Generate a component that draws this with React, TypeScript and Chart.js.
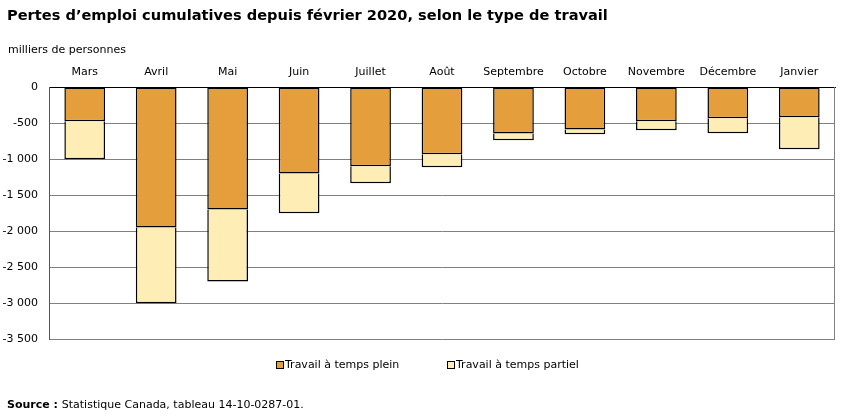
import React, { useEffect, useRef } from "react";
import { Chart, registerables } from "chart.js";

Chart.register(...registerables);

// Mois depuis février 2020
const months = [
  "Mars", "Avril", "Mai", "Juin", "Juillet", "Août",
  "Septembre", "Octobre", "Novembre", "Décembre", "Janvier",
];

// Pertes cumulatives (milliers de personnes)
const fullTime = [-475, -1950, -1700, -1200, -1100, -935, -645, -590, -477, -435, -421];
const partTime = [-530, -1055, -1000, -555, -238, -180, -96, -67, -125, -209, -445];

const seriesLabels = ["Travail à temps plein", "Travail à temps partiel"];
const seriesColors = ["#E49E3C", "#FEEDB4"];

const titleText = "Pertes d’emploi cumulatives depuis février 2020, selon le type de travail";
const unitText = "milliers de personnes";
const sourceBold = "Source :";
const sourceText = "Statistique Canada, tableau 14-10-0287-01.";

const FONT = "'DejaVu Sans', Verdana, sans-serif";

function formatThousands(v: number): string {
  const sign = v < 0 ? "-" : "";
  const s = Math.abs(Math.round(v)).toString();
  return sign + s.replace(/\B(?=(\d{3})+(?!\d))/g, " ");
}

const decorations = {
  id: "decorations",
  beforeDatasetsDraw(chart: any) {
    const { ctx, chartArea } = chart;
    ctx.save();
    ctx.strokeStyle = "#808080";
    ctx.lineWidth = 1;
    ctx.beginPath();
    ctx.moveTo(Math.round(chartArea.right) - 0.5, chartArea.top);
    ctx.lineTo(Math.round(chartArea.right) - 0.5, chartArea.bottom);
    ctx.stroke();
    ctx.restore();
  },
  afterDraw(chart: any) {
    const { ctx } = chart;
    ctx.save();
    ctx.fillStyle = "#000";
    ctx.textBaseline = "middle";
    ctx.textAlign = "left";

    ctx.font = `bold 14.6px ${FONT}`;
    ctx.fillText(titleText, 7, 16);

    ctx.font = `11px ${FONT}`;
    ctx.fillText(unitText, 8, 50);

    // légende
    const items = [
      { x: 276, label: seriesLabels[0], color: seriesColors[0] },
      { x: 447, label: seriesLabels[1], color: seriesColors[1] },
    ];
    for (const it of items) {
      ctx.fillStyle = it.color;
      ctx.fillRect(it.x, 361, 7, 7);
      ctx.strokeStyle = "#000";
      ctx.lineWidth = 1;
      ctx.strokeRect(it.x + 0.5, 361.5, 7, 7);
      ctx.fillStyle = "#000";
      ctx.font = `11px ${FONT}`;
      ctx.fillText(it.label, it.x + 9, 365);
    }

    // source
    ctx.font = `bold 11px ${FONT}`;
    ctx.fillText(sourceBold, 7, 405);
    const w = ctx.measureText(sourceBold + " ").width;
    ctx.font = `11px ${FONT}`;
    ctx.fillText(sourceText, 7 + w, 405);
    ctx.restore();
  },
};

export default function App() {
  const canvasRef = useRef<HTMLCanvasElement | null>(null);

  useEffect(() => {
    if (!canvasRef.current) return;
    const chart = new Chart(canvasRef.current, {
      type: "bar",
      data: {
        labels: months,
        datasets: [
          {
            label: seriesLabels[0],
            data: fullTime,
            backgroundColor: seriesColors[0],
            borderColor: "#000",
            borderWidth: 1.5,
            borderSkipped: false,
          },
          {
            label: seriesLabels[1],
            data: partTime,
            backgroundColor: seriesColors[1],
            borderColor: "#000",
            borderWidth: 1.5,
            // le bord supérieur est partagé avec le segment temps plein
            borderSkipped: "start",
          },
        ],
      },
      options: {
        responsive: false,
        animation: false,
        devicePixelRatio: 1,
        datasets: { bar: { barPercentage: 0.57, categoryPercentage: 1 } },
        layout: { padding: { top: 60, right: 16, bottom: 77, left: 0 } },
        plugins: {
          legend: { display: false },
          title: { display: false },
          tooltip: { enabled: false },
        },
        scales: {
          x: {
            position: "top",
            stacked: true,
            grid: { display: false, drawTicks: false },
            border: { display: true, color: "#000", width: 1 },
            ticks: {
              color: "#000",
              font: { family: FONT, size: 11 },
              padding: 8,
              maxRotation: 0,
              autoSkip: false,
            },
            afterFit(scale: any) {
              scale.height = 27;
            },
          },
          y: {
            stacked: true,
            min: -3500,
            max: 0,
            grid: {
              color: (c: any) => (c.tick && c.tick.value === 0 ? "#000" : "#808080"),
              lineWidth: 1,
              drawTicks: false,
            },
            border: { display: true, color: "#555", width: 1 },
            ticks: {
              stepSize: 500,
              color: "#000",
              font: { family: FONT, size: 11 },
              padding: 11,
              callback: (v: any) => formatThousands(Number(v)),
            },
            afterFit(scale: any) {
              scale.width = 49;
            },
          },
        },
      },
      plugins: [decorations],
    });
    return () => chart.destroy();
  }, []);

  return (
    <div style={{ position: "absolute", left: 0, top: 0, width: 851, height: 416, background: "#fff" }}>
      <canvas ref={canvasRef} width={851} height={416} />
    </div>
  );
}
